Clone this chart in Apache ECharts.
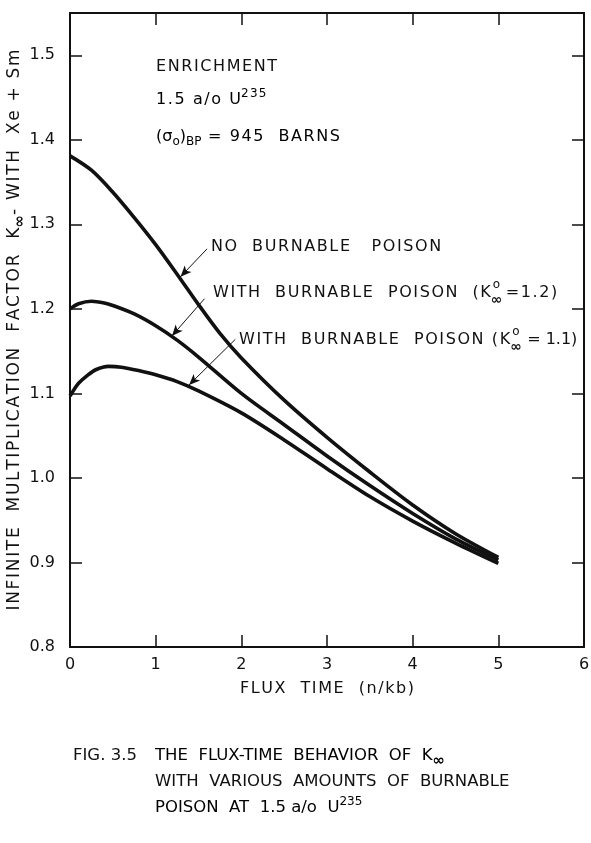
<!DOCTYPE html>
<html lang="en">
<head>
<meta charset="UTF-8">
<title>Flux-time behavior of K-infinity</title>
<script src="https://cdn.jsdelivr.net/npm/echarts@6/dist/echarts.min.js"></script>
</head>
<body style="margin:0;background:#fff;">
<div id="main" style="width:591px;height:843px;"></div>
<script>
// values: flux time (n/kb) -> k-infinity
var fluxNoBP = [0, 0.25, 0.5, 0.75, 1, 1.25, 1.5, 1.75, 2, 2.5, 3, 3.5, 4, 4.5, 5];
var kNoBP = [1.381, 1.364, 1.338, 1.308, 1.276, 1.241, 1.205, 1.171, 1.142, 1.092, 1.048, 1.007, 0.968, 0.934, 0.906];

var fluxBP12 = [0, 0.1, 0.25, 0.4, 0.5, 0.75, 1, 1.25, 1.5, 2, 2.5, 3, 3.5, 4, 4.5, 5];
var kBP12 = [1.200, 1.206, 1.209, 1.207, 1.204, 1.194, 1.180, 1.163, 1.143, 1.100, 1.063, 1.026, 0.991, 0.958, 0.928, 0.903];

var fluxBP11 = [0, 0.05, 0.1, 0.2, 0.3, 0.45, 0.6, 0.8, 1, 1.25, 1.5, 2, 2.5, 3, 3.5, 4, 4.5, 5];
var kBP11 = [1.097, 1.105, 1.112, 1.121, 1.128, 1.132, 1.131, 1.127, 1.122, 1.114, 1.103, 1.077, 1.045, 1.011, 0.978, 0.949, 0.923, 0.899];

// arrows from each label to its curve: [from, to] in data units
var arrowNoBP = [[1.60, 1.271], [1.29, 1.238]];
var arrowBP12 = [[1.57, 1.212], [1.19, 1.168]];
var arrowBP11 = [[1.93, 1.164], [1.39, 1.110]];

var xTicks = {min: 0, max: 6, interval: 1};
var yTicks = {min: 0.8, max: 1.55, interval: 0.1};

var ink = '#111';
var FONT = 'DejaVu Sans';
var HAIR = '\u200A';

function pairs(xs, ys) {
    return xs.map(function (x, i) { return [x, ys[i]]; });
}

// wide lettering of the original drawing
function spaced(str) {
    return str.split('').join(HAIR);
}

var ctx = document.createElement('canvas').getContext('2d');
function textWidth(str, size) {
    ctx.font = size + 'px "' + FONT + '"';
    return ctx.measureText(str).width;
}

function arrow(a) {
    return {
        silent: true,
        symbol: ['none', 'arrow'],
        symbolSize: [7, 11],
        label: {show: false},
        lineStyle: {color: ink, width: 1, type: 'solid'},
        data: [[{coord: a[0]}, {coord: a[1]}]]
    };
}

function curve(name, xs, ys, a) {
    return {
        name: name,
        type: 'line',
        data: pairs(xs, ys),
        smooth: 0.3,
        symbol: 'none',
        lineStyle: {color: ink, width: 3.6},
        markLine: arrow(a)
    };
}

function plainText(x, y, str, size) {
    return {type: 'text', x: x, y: y, style: {text: str, font: size + 'px "' + FONT + '"', fill: ink, verticalAlign: 'middle'}};
}

// label with the stacked "K o/∞" notation
function kLabel(x, y, head, tail, gap) {
    var size = 16;
    var w = textWidth(head, size);
    return [
        plainText(x, y, head, size),
        {type: 'text', x: x + w + 2, y: y - 8, style: {text: 'o', font: '12px "' + FONT + '"', fill: ink, verticalAlign: 'middle'}},
        {type: 'text', x: x + w, y: y + 7, style: {text: '∞', font: 'bold 14px "' + FONT + '"', fill: ink, verticalAlign: 'middle'}},
        plainText(x + w + gap, y, tail, size)
    ];
}

var chart = echarts.init(document.getElementById('main'), null, {renderer: 'canvas'});

var rich = {
    t: {fontSize: 16, fontFamily: FONT, color: ink, lineHeight: 22},
    c: {fontSize: 16.5, fontFamily: FONT, color: ink, lineHeight: 22},
    y: {fontSize: 17, fontFamily: FONT, color: ink, lineHeight: 22},
    sub: {fontSize: 12, fontFamily: FONT, color: ink, verticalAlign: 'bottom', lineHeight: 22, height: 12},
    inf: {fontSize: 15, fontWeight: 'bold', fontFamily: FONT, color: ink, verticalAlign: 'bottom', lineHeight: 22, height: 12},
    sup: {fontSize: 12, fontFamily: FONT, color: ink, verticalAlign: 'top', lineHeight: 22, height: 10}
};

var baseX = {
    type: 'value',
    min: xTicks.min, max: xTicks.max, interval: xTicks.interval,
    axisLine: {onZero: false, lineStyle: {color: ink, width: 2}},
    axisTick: {inside: true, length: 12, lineStyle: {color: ink, width: 1.5}},
    splitLine: {show: false}
};
var baseY = {
    type: 'value',
    min: yTicks.min, max: yTicks.max, interval: yTicks.interval,
    axisLine: {onZero: false, lineStyle: {color: ink, width: 2}},
    axisTick: {inside: true, length: 12, lineStyle: {color: ink, width: 1.5}},
    splitLine: {show: false}
};

var option = {
    animation: false,
    backgroundColor: '#fff',
    grid: {left: 70, right: 7, top: 13, bottom: 196, outerBoundsMode: 'none', containLabel: false},
    xAxis: [
        Object.assign({}, baseX, {
            position: 'bottom',
            axisLabel: {margin: 10, fontSize: 16, fontFamily: FONT, color: ink},
            name: spaced('FLUX  TIME  (n/kb)'),
            nameLocation: 'middle',
            nameGap: 34,
            nameMoveOverlap: false,
            nameTextStyle: {fontSize: 16, fontFamily: FONT, color: ink}
        }),
        Object.assign({}, baseX, {position: 'top', axisLabel: {show: false}})
    ],
    yAxis: [
        Object.assign({}, baseY, {
            position: 'left',
            axisLabel: {
                margin: 15, fontSize: 16, fontFamily: FONT, color: ink, showMaxLabel: false,
                formatter: function (v) { return v.toFixed(1); }
            },
            name: '{y|' + spaced('INFINITE  MULTIPLICATION  FACTOR  K') + '}{inf|∞}{y|' + spaced('- WITH  Xe + Sm') + '}',
            nameLocation: 'middle',
            nameGap: 44,
            nameMoveOverlap: false,
            nameTextStyle: {rich: rich}
        }),
        Object.assign({}, baseY, {position: 'right', axisLabel: {show: false}})
    ],
    series: [
        curve('NO BURNABLE POISON', fluxNoBP, kNoBP, arrowNoBP),
        curve('WITH BURNABLE POISON (1.2)', fluxBP12, kBP12, arrowBP12),
        curve('WITH BURNABLE POISON (1.1)', fluxBP11, kBP11, arrowBP11)
    ],
    graphic: [
        plainText(156, 67, spaced('ENRICHMENT'), 16),
        {type: 'text', x: 156, y: 100, style: {
            text: '{t|' + spaced('1.5 a/o U') + '}{sup|' + spaced('235') + '}', rich: rich, verticalAlign: 'middle'}},
        {type: 'text', x: 156, y: 137, style: {
            text: '{t|(σ}{sub|o}{t|)}{sub|BP}{t|' + spaced(' = 945  BARNS') + '}', rich: rich, verticalAlign: 'middle'}},
        plainText(211, 247, spaced('NO  BURNABLE   POISON'), 16)
    ]
        .concat(kLabel(213, 293, spaced('WITH  BURNABLE  POISON  (K'), spaced('=1.2)'), 15))
        .concat(kLabel(239, 340, spaced('WITH  BURNABLE  POISON (K'), '= 1.1)', 17))
        .concat([
            plainText(73, 756, 'FIG. 3.5', 16.5),
            {type: 'text', x: 155, y: 756, style: {
                text: '{c|THE  FLUX-TIME  BEHAVIOR  OF  K}{inf|∞}', rich: rich, verticalAlign: 'middle'}},
            plainText(155, 782, 'WITH  VARIOUS  AMOUNTS  OF  BURNABLE', 16.5),
            {type: 'text', x: 155, y: 808, style: {
                text: '{c|POISON  AT  1.5 a/o  U}{sup|235}', rich: rich, verticalAlign: 'middle'}}
        ])
};

chart.setOption(option);
</script>
</body>
</html>
